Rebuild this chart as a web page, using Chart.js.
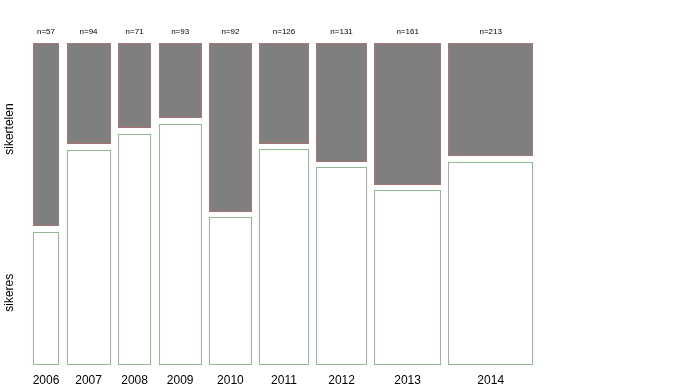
<!DOCTYPE html>
<html>
<head>
<meta charset="utf-8">
<script src="https://cdn.jsdelivr.net/npm/chart.js@4/dist/chart.umd.min.js"></script>
<style>
  html, body { margin: 0; padding: 0; background: #fff; }
  #wrap { width: 677px; height: 390px; }
</style>
</head>
<body>
<div id="wrap"><canvas id="mosaic"></canvas></div>
<script>
// data
var years = ['2006', '2007', '2008', '2009', '2010', '2011', '2012', '2013', '2014'];
var nTotal = [57, 94, 71, 93, 92, 126, 131, 161, 213];
var sikertelen = [33, 30, 19, 22, 49, 40, 49, 72, 76];
var sikeres = [24, 64, 52, 71, 43, 86, 82, 89, 137];
// relative column widths as drawn
var colWeight = [26, 44, 33, 43, 42.5, 49.5, 50.5, 66.5, 84.5];
var rowLabels = ['sikertelen', 'sikeres'];

var colGap = 7.5;   // x units between columns
var rowGap = 0.0206; // y units between the two cells

// build column edges
var colStart = [], colEnd = [], colMid = [];
var pos = 0;
for (var i = 0; i < years.length; i++) {
    colStart.push(pos);
    colEnd.push(pos + colWeight[i]);
    colMid.push(pos + colWeight[i] / 2);
    pos += colWeight[i] + colGap;
}
var xMax = pos - colGap;

var mosaicPlugin = {
    id: 'mosaic',
    beforeDatasetsDraw: function(chart) {
        var ctx = chart.ctx;
        var xs = chart.scales.x, ys = chart.scales.y;
        ctx.save();
        ctx.lineWidth = 1;
        for (var i = 0; i < years.length; i++) {
            var pOk = sikeres[i] / (sikeres[i] + sikertelen[i]);
            var x0 = Math.round(xs.getPixelForValue(colStart[i])) + 0.5;
            var x1 = Math.round(xs.getPixelForValue(colEnd[i])) - 0.5;
            // sikeres cell (bottom)
            var yb = Math.round(ys.getPixelForValue(0)) + 0.5;
            var yt = Math.round(ys.getPixelForValue(pOk)) + 0.5;
            ctx.fillStyle = '#ffffff';
            ctx.fillRect(x0, yt, x1 - x0, yb - yt);
            ctx.strokeStyle = '#90ba90';
            ctx.strokeRect(x0, yt, x1 - x0, yb - yt);
            // sikertelen cell (top)
            var gb = Math.round(ys.getPixelForValue(pOk + rowGap)) + 0.5;
            var gt = Math.round(ys.getPixelForValue(1 + rowGap)) + 0.5;
            ctx.fillStyle = '#7f7f7f';
            ctx.fillRect(x0, gt, x1 - x0, gb - gt);
            ctx.strokeStyle = '#a87474';
            ctx.strokeRect(x0, gt, x1 - x0, gb - gt);
        }
        // row labels at the first column's cells
        var p0 = sikeres[0] / (sikeres[0] + sikertelen[0]);
        var centers = [(p0 + rowGap + 1 + rowGap) / 2, p0 / 2];
        ctx.fillStyle = '#000';
        ctx.font = '12px "Liberation Sans", Arial, sans-serif';
        ctx.textAlign = 'center';
        ctx.textBaseline = 'middle';
        for (var r = 0; r < rowLabels.length; r++) {
            ctx.save();
            ctx.translate(10, ys.getPixelForValue(centers[r]) - 5);
            ctx.rotate(-Math.PI / 2);
            ctx.fillText(rowLabels[r], 0, 0);
            ctx.restore();
        }
        ctx.restore();
    }
};

var ctx = document.getElementById('mosaic').getContext('2d');
var chart = new Chart(ctx, {
    type: 'scatter',
    data: { datasets: [{ data: [], showLine: false }] },
    options: {
        responsive: true,
        maintainAspectRatio: false,
        animation: false,
        layout: { padding: { left: 33, right: 144, top: 0, bottom: 0 } },
        plugins: { legend: { display: false }, tooltip: { enabled: false } },
        scales: {
            x: {
                type: 'linear',
                position: 'bottom',
                min: 0,
                max: xMax,
                grid: { display: false, drawTicks: false },
                border: { display: false },
                afterBuildTicks: function(scale) {
                    scale.ticks = colMid.map(function(v) { return { value: v }; });
                },
                afterFit: function(scale) { scale.height = 26; },
                ticks: {
                    autoSkip: false,
                    maxRotation: 0,
                    padding: 9,
                    color: '#000',
                    font: { family: '"Liberation Sans", Arial, sans-serif', size: 12 },
                    callback: function(v, idx) { return years[idx]; }
                }
            },
            x2: {
                type: 'linear',
                position: 'top',
                min: 0,
                max: xMax,
                grid: { display: false, drawTicks: false },
                border: { display: false },
                afterBuildTicks: function(scale) {
                    scale.ticks = colMid.map(function(v) { return { value: v }; });
                },
                afterFit: function(scale) { scale.height = 43; },
                ticks: {
                    autoSkip: false,
                    maxRotation: 0,
                    padding: 6,
                    color: '#000',
                    font: { family: '"Liberation Sans", Arial, sans-serif', size: 8 },
                    callback: function(v, idx) { return 'n=' + nTotal[idx]; }
                }
            },
            y: {
                type: 'linear',
                display: false,
                min: 0,
                max: 1 + rowGap
            }
        }
    },
    plugins: [mosaicPlugin]
});
</script>
</body>
</html>
